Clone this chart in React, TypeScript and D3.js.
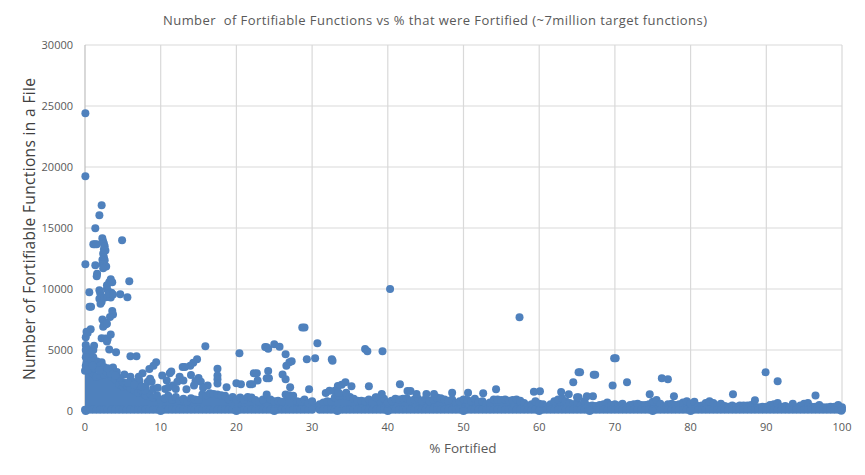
import React from "react";
import * as d3 from "d3";

const chartTitle = "Number  of Fortifiable Functions vs % that were Fortified (~7million target functions)";
const xAxisTitle = "% Fortified";
const yAxisTitle = "Number of Fortifiable Functions in a File";
const xTicks = [0, 10, 20, 30, 40, 50, 60, 70, 80, 90, 100];
const yTicks = [0, 5000, 10000, 15000, 20000, 25000, 30000];

// Upper edge of the saturated band of dots: [% fortified, functions]
const bandEdge: [number, number][] = [
  [0, 3300], [0.5, 3300], [1, 3100], [1.5, 2800], [2, 2900], [2.5, 3000], [3, 3100], [3.5, 2800], [4, 2600], [4.5, 2200], [5, 2000], [5.5, 2100], [6, 1850], [6.5, 1700], [7, 1500], [7.5, 1650], [8, 1300], [8.5, 1450], [9, 1100], [9.5, 1300], [10, 900],
  [10.5, 1050], [11, 1250], [11.5, 950], [12, 1150], [12.5, 850], [13, 1000], [13.5, 780], [14, 1050], [14.5, 950], [15, 900], [15.5, 1350], [16, 1300], [16.5, 1450], [17, 1400], [17.5, 1350], [18, 1300], [18.5, 1250], [19, 950], [19.5, 1150], [20, 950],
  [20.5, 1100], [21, 950], [21.5, 1150], [22, 1100], [22.5, 900], [23, 750], [23.5, 950], [24, 1350], [24.5, 950], [25, 800], [25.5, 850], [26, 750], [26.5, 1350], [27, 1300], [27.5, 1250], [28, 800], [28.5, 750], [29, 950], [29.5, 650], [30, 800],
  [31, 550], [31.5, 700], [32, 800], [32.5, 750], [33, 1100], [33.5, 1250], [34, 1300], [34.5, 1250], [35, 1150], [35.5, 1000], [36, 850], [36.5, 850], [37, 800], [37.5, 950], [38, 700], [38.5, 1100], [39, 850], [39.5, 1000], [40, 700],
  [40.5, 850], [41, 1000], [41.5, 950], [42, 1000], [42.5, 1050], [43, 850], [43.5, 950], [44, 1000], [44.5, 800], [45, 1000], [45.5, 850], [46, 950], [46.5, 1100], [47, 1050], [47.5, 950], [48, 850], [48.5, 950], [49, 650], [49.5, 800], [50, 950],
  [50.5, 900], [51, 800], [51.5, 1000], [52, 750], [52.5, 800], [53, 550], [53.5, 700], [54, 950], [54.5, 950], [55, 900], [55.5, 950], [56, 850], [56.5, 900], [57, 950], [57.5, 850], [58, 650], [58.5, 450], [59, 550], [59.5, 800], [60, 600],
  [60.5, 550], [61, 350], [61.5, 550], [62, 800], [62.5, 950], [63, 1050], [63.5, 800], [64, 650], [64.5, 550], [65, 700], [65.5, 450], [66, 800], [66.5, 400], [67, 450], [67.5, 400], [68, 500], [68.5, 550], [69, 700], [69.5, 500], [70, 550],
  [70.5, 450], [71, 600], [71.5, 350], [72, 500], [72.5, 550], [73, 600], [73.5, 500], [74, 500], [74.5, 550], [75, 750], [75.5, 900], [76, 600], [76.5, 350], [77, 550], [77.5, 600], [78, 500], [78.5, 550], [79, 700], [79.5, 800], [80, 600],
  [80.5, 750], [81, 400], [81.5, 450], [82, 650], [82.5, 800], [83, 650], [83.5, 450], [84, 600], [84.5, 400], [85, 350], [85.5, 450], [86, 350], [86.5, 450], [87, 450], [87.5, 450], [88, 500], [88.5, 350], [89, 300], [89.5, 350], [90, 350],
  [90.5, 500], [91, 550], [91.5, 650], [92, 350], [92.5, 400], [93, 300], [93.5, 600], [94, 300], [94.5, 450], [95, 600], [95.5, 650], [96, 350], [96.5, 350], [97, 500], [97.5, 300], [98, 300], [98.5, 350], [99, 350], [99.5, 500], [100, 300],
];

// Individually visible dots: [% fortified, functions]
const topOutliers: [number, number][] = [
  [0.05, 24400], [0.05, 19250], [2.2, 16870], [1.9, 16040], [1.36, 14970], [2.29, 14150], [1.1, 13660], [1.3, 13660], [1.55, 13660], [4.9, 13990],
  [2.4, 13900], [2.5, 13700], [2.6, 13500], [2.5, 13250], [2.7, 13150], [2.4, 12900], [2.5, 12600], [2.3, 12400], [2.6, 12350], [2.3, 12050], [2.5, 11950], [2.8, 11850], [2.4, 11700],
  [0.05, 12020], [1.36, 11940], [1.6, 11250], [1.55, 11050], [5.85, 10630], [0.57, 9730], [4.66, 9560], [5.6, 9320], [0.6, 8550], [0.8, 8550],
  [1.9, 9900], [2.0, 9700], [2.1, 9400], [1.9, 9200], [2.2, 8950], [2.05, 8800], [2.6, 9300], [3.0, 9350], [3.4, 9300], [3.5, 9700], [3.1, 9800], [2.9, 10000], [2.9, 10300], [3.2, 10550], [3.4, 10800], [3.6, 10550], [3.2, 9600], [3.7, 9550],
  [3.6, 8200], [3.7, 7900], [3.3, 7700], [2.3, 7500], [2.5, 7300], [2.7, 7100], [2.4, 6900], [2.9, 7150],
  [0.2, 6500], [0.75, 6700], [0.1, 6050], [0.35, 6400], [2.2, 5960], [2.7, 5950], [2.9, 5700], [3.0, 5900], [3.4, 6280],
  [15.9, 5300], [3.2, 5050], [4.1, 4810], [6, 4480], [6.8, 4480], [14.8, 4240], [14.3, 3960], [13.9, 3700], [12.9, 3600], [13.2, 3600], [9.4, 3990], [9.05, 3700], [8.5, 3450],
  [17.5, 3470], [17.5, 2900], [17.5, 2600], [17.5, 2250], [18.7, 1940], [13.4, 1780], [10.2, 2920], [11.4, 3230], [11.2, 3100], [3.7, 3560], [4.2, 3200], [5.2, 3000], [6.0, 2800], [7.6, 3100], [7.1, 2800], [8.8, 2400], [8.3, 2400], [8.6, 2650],
  [0.1, 5400], [0.3, 5100], [1.2, 5350], [1.1, 5000], [0.2, 4700], [0.5, 4400], [1.1, 4400], [0.2, 4000], [0.6, 3800], [1.6, 4050], [2.2, 4000], [2.0, 3700], [2.7, 3300], [3.4, 3050], [1.2, 3500],
  [0.1, 5000], [0.7, 4700], [0.1, 4400], [0.8, 4100], [0.1, 3700], [0.4, 3400], [1.0, 3700], [2.5, 3600], [1.9, 3350], [3.0, 3500],
  [5.0, 2350], [5.6, 2300], [6.9, 2100], [7.2, 2450], [8.0, 1950], [9.0, 1800], [7.9, 1700], [6.3, 2400], [4.6, 2700], [4.0, 2900],
  [12.5, 2800], [14, 2950], [15, 2700], [15.3, 2400], [16.2, 2100], [14.6, 2450], [11.6, 2100], [12.2, 2400], [10.8, 2500], [5.7, 2300], [6.5, 2150], [9.6, 1900], [7.5, 2000], [10.6, 1800], [11.0, 1900], [12.0, 1800], [13.0, 2500], [14.4, 2100], [15.6, 1900],
  [28.7, 6850], [29, 6850], [30.7, 5550], [24, 5220], [23.8, 5250], [24.2, 5100], [25, 5470], [25.7, 5270], [26.5, 4650], [20.4, 4730], [29.3, 4240], [30.4, 4320], [32.6, 4240], [32.7, 4120],
  [37, 5080], [37.3, 4890], [39.3, 4890], [27.3, 4070], [27, 4000], [26.6, 3710], [24.2, 3280], [26.1, 3000], [26.5, 2600], [27.1, 1940], [29.6, 1780], [22.3, 3090], [22.7, 3090], [24.3, 2680], [24, 2680], [22.8, 2510],
  [21.8, 2200], [22.1, 2200], [20, 2280], [20.6, 2200], [34.4, 2350], [33.9, 2150], [33.4, 2050], [35.2, 2020], [37.5, 2020], [39.2, 1390], [38.4, 1120],
  [40.3, 10000], [57.4, 7680], [41.6, 2190], [48.5, 1500], [50.6, 1500], [52.6, 1450], [54.3, 1780], [59.3, 1580], [60.1, 1610], [64.5, 2350], [65.2, 3170], [65.4, 3170],
  [42.6, 1640], [43, 1640], [43.8, 1400], [45.1, 1400], [46.1, 1400], [31.8, 1480], [32.3, 1650], [33, 1650], [34.5, 1500], [33.5, 1500],
  [70.1, 4320], [69.9, 4320], [67.2, 2980], [67.4, 2980], [69.7, 2100], [71.6, 2350], [76.2, 2680], [77, 2600], [74.6, 1370], [77.8, 1200], [89.9, 3170], [91.5, 2430], [85.6, 1370], [88.5, 880], [96.5, 1280], [63.9, 1370], [65, 1120], [65.2, 1120], [66.3, 1200], [67.1, 1200], [62.9, 1550],
  [99.9, 250], [99.9, 20],
];

// Dots at exactly zero that poke out under the band
const zeroDots: number[] = [0.1, 10, 20, 25, 33.33, 40, 50, 60, 66.67, 75, 80];

const W = 865;
const H = 475;

export default function App() {
  const x = d3.scaleLinear().domain([0, 100]).range([85, 842]);
  const y = d3.scaleLinear().domain([0, 30000]).range([411, 45]);
  const bandFloor = 100;
  const area = d3
    .area<[number, number]>()
    .x((d) => x(d[0]))
    .y0(y(bandFloor))
    .y1((d) => y(d[1]));
  const blue = "#4f81bd";
  const r = 4;
  const txt = "#595959";
  const font = "'Open Sans', 'Noto Sans', sans-serif";
  return (
    <svg
      width={W}
      height={H}
      viewBox={`0 0 ${W} ${H}`}
      style={{ position: "absolute", left: 0, top: 0, background: "#fff" }}
      fontFamily={font}
    >
      <text x={435} y={25} textAnchor="middle" fontSize={13} fill={txt} textLength={544} xmlSpace="preserve">
        {chartTitle}
      </text>
      {yTicks.map((t) => (
        <g key={t}>
          <line x1={x(0)} x2={x(100)} y1={y(t)} y2={y(t)} stroke="#d9d9d9" strokeWidth={1.2} />
          <text x={73} y={y(t) + 4} textAnchor="end" fontSize={11} fill={txt}>{t}</text>
        </g>
      ))}
      {xTicks.map((t) => (
        <g key={t}>
          <line x1={x(t)} x2={x(t)} y1={y(30000)} y2={y(0)} stroke={t === 0 ? "#bfbfbf" : "#d9d9d9"} strokeWidth={1.2} />
          <text x={x(t)} y={431} textAnchor="middle" fontSize={11} fill={txt}>{t}</text>
        </g>
      ))}
      <path d={area(bandEdge) ?? ""} fill={blue} />
      {bandEdge.map((d, i) => (
        <g key={`b${i}`}>
          <circle cx={x(d[0])} cy={y(d[1])} r={r} fill={blue} />
          <circle cx={x(d[0])} cy={y(bandFloor)} r={r} fill={blue} />
        </g>
      ))}
      {zeroDots.map((v, i) => (
        <circle key={`z${i}`} cx={x(v)} cy={y(0)} r={r} fill={blue} />
      ))}
      {topOutliers.map((d, i) => (
        <circle key={`o${i}`} cx={x(d[0])} cy={y(d[1])} r={r} fill={blue} />
      ))}
      <text x={463} y={453} textAnchor="middle" fontSize={13.5} fill={txt}>{xAxisTitle}</text>
      <text
        transform={`translate(35,229) rotate(-90)`}
        textAnchor="middle"
        fontSize={15.5}
        fill="#404040"
        textLength={302}
      >
        {yAxisTitle}
      </text>
    </svg>
  );
}
